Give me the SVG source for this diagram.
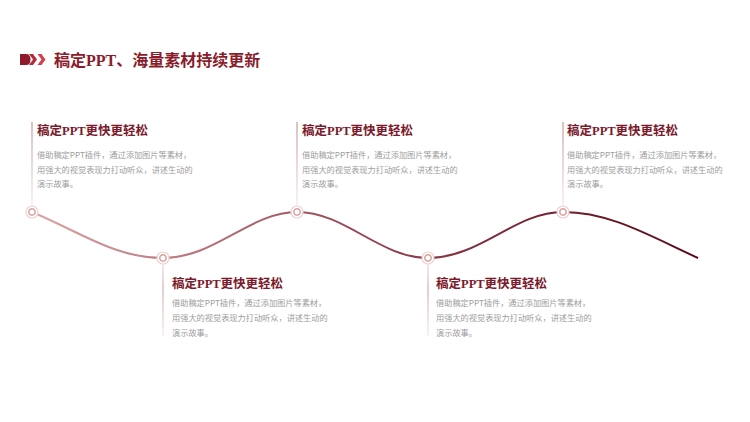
<svg xmlns="http://www.w3.org/2000/svg" width="750" height="422" viewBox="0 0 750 422">
<defs>
<linearGradient id="curveGrad" x1="32" y1="0" x2="698" y2="0" gradientUnits="userSpaceOnUse">
<stop offset="0" stop-color="#dba6a6"/>
<stop offset="0.5" stop-color="#94434f"/>
<stop offset="1" stop-color="#5a0716"/>
</linearGradient>
<linearGradient id="vDown" x1="0" y1="0" x2="0" y2="1">
<stop offset="0" stop-color="#c07e88"/>
<stop offset="1" stop-color="#f5e4e4"/>
</linearGradient>
<linearGradient id="vUp" x1="0" y1="0" x2="0" y2="1">
<stop offset="0" stop-color="#ecd0d0"/>
<stop offset="0.35" stop-color="#cf9aa2"/>
<stop offset="1" stop-color="#f5e4e4"/>
</linearGradient>
<g id="dot">
<circle r="6" fill="#ffffff" stroke="#f1d2d2" stroke-width="1.2"/>
<circle r="3.2" fill="#ffffff" stroke="#dca0a0" stroke-width="1.5"/>
</g>
</defs>
<style>
.title{font-family:"Liberation Serif","Noto Sans CJK SC",serif;font-size:16px;font-weight:bold;fill:#8a1c2c}
.head{font-family:"Liberation Serif","Noto Sans CJK SC",serif;font-size:12.5px;font-weight:bold;fill:#7b1a2b}
.body{font-family:"Noto Sans CJK SC","Liberation Sans",sans-serif;font-size:8.2px;fill:#9d9d9d}
</style>
<rect width="750" height="422" fill="#ffffff"/>
<g id="title">
<path d="M20,54 H26 Q30.5,54 30.5,59.5 Q30.5,65 26,65 H20 Z" fill="#8f1a2a"/>
<path d="M29,54 H33 L37,59.5 L33,65 H29 L33,59.5 Z" fill="#b42a38"/>
<path d="M37.5,54 H41.5 L45.5,59.5 L41.5,65 H37.5 L41.5,59.5 Z" fill="#d2404c"/>
<text class="title" x="54" y="65.5">稿定PPT、海量素材持续更新</text>
</g>
<g id="connectors">
<path d="M32,212 C80,232 115,258 163,258 C215,258 250,212 297,212 C345,212 380,258 428,258 C480,258 515,212 563,212 C610,212 650,236 698,258" fill="none" stroke="url(#curveGrad)" stroke-width="2"/>
<rect x="31.5" y="122" width="1" height="84" fill="url(#vDown)"/>
<rect x="296.5" y="122" width="1" height="84" fill="url(#vDown)"/>
<rect x="562.5" y="122" width="1" height="84" fill="url(#vDown)"/>
<rect x="162.5" y="264" width="1" height="72" fill="url(#vUp)"/>
<rect x="427.5" y="264" width="1" height="72" fill="url(#vUp)"/>
</g>
<g id="node1">
<use href="#dot" x="32" y="212"/>
<text class="head" x="37" y="134.5">稿定PPT更快更轻松</text>
<text class="body" x="37" y="158">借助稿定PPT插件，通过添加图片等素材，</text>
<text class="body" x="37" y="172.5">用强大的视觉表现力打动听众，讲述生动的</text>
<text class="body" x="37" y="187">演示故事。</text>
</g>
<g id="node2">
<use href="#dot" x="163" y="258"/>
<text class="head" x="172" y="287.5">稿定PPT更快更轻松</text>
<text class="body" x="172" y="306">借助稿定PPT插件，通过添加图片等素材，</text>
<text class="body" x="172" y="321">用强大的视觉表现力打动听众，讲述生动的</text>
<text class="body" x="172" y="336">演示故事。</text>
</g>
<g id="node3">
<use href="#dot" x="297" y="212"/>
<text class="head" x="302" y="134.5">稿定PPT更快更轻松</text>
<text class="body" x="302" y="158">借助稿定PPT插件，通过添加图片等素材，</text>
<text class="body" x="302" y="172.5">用强大的视觉表现力打动听众，讲述生动的</text>
<text class="body" x="302" y="187">演示故事。</text>
</g>
<g id="node4">
<use href="#dot" x="428" y="258"/>
<text class="head" x="436" y="287.5">稿定PPT更快更轻松</text>
<text class="body" x="436" y="306">借助稿定PPT插件，通过添加图片等素材，</text>
<text class="body" x="436" y="321">用强大的视觉表现力打动听众，讲述生动的</text>
<text class="body" x="436" y="336">演示故事。</text>
</g>
<g id="node5">
<use href="#dot" x="563" y="212"/>
<text class="head" x="567" y="134.5">稿定PPT更快更轻松</text>
<text class="body" x="567" y="158">借助稿定PPT插件，通过添加图片等素材，</text>
<text class="body" x="567" y="172.5">用强大的视觉表现力打动听众，讲述生动的</text>
<text class="body" x="567" y="187">演示故事。</text>
</g>
</svg>
